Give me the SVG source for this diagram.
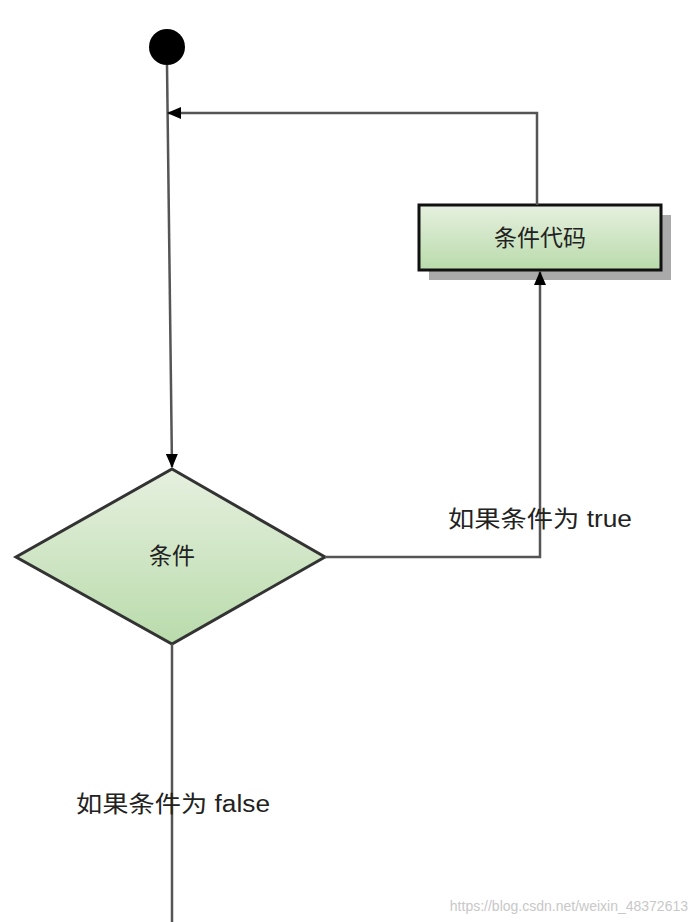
<svg xmlns="http://www.w3.org/2000/svg" width="696" height="922" viewBox="0 0 696 922">
<style>
.t{font-family:"Liberation Sans","Noto Sans CJK SC",sans-serif;font-size:23px;fill:#222}
.c{fill:none;stroke:#555;stroke-width:2.5}
</style>
<defs>
<linearGradient id="g" x1="0" y1="0" x2="0" y2="1"><stop offset="0" stop-color="#e6f0df"/><stop offset="1" stop-color="#b9dbab"/></linearGradient>
<marker id="a" markerWidth="14" markerHeight="14" refX="13" refY="7" orient="auto" markerUnits="userSpaceOnUse" viewBox="0 0 14 14"><path d="M0,1L14,7L0,13z" fill="#000"/></marker>
</defs>
<rect width="696" height="922" fill="#fff"/>
<g id="start"><circle cx="167" cy="47" r="18" fill="#000"/></g>
<g id="code">
<rect x="429" y="215" width="242" height="65" fill="#aaa"/>
<rect x="419" y="205" width="242" height="65" fill="url(#g)" stroke="#111" stroke-width="3"/>
<text class="t" x="540" y="246" text-anchor="middle">条件代码</text>
</g>
<g id="cond">
<polygon points="172,469 325,557 172,644 16,557" fill="url(#g)" stroke="#333" stroke-width="3"/>
<text class="t" x="172" y="564" text-anchor="middle">条件</text>
</g>
<g id="connectors">
<path class="c" d="M167,65L172,467" marker-end="url(#a)" stroke="#222" stroke-width="1.5"/>
<path class="c" d="M537,205V113H168" marker-end="url(#a)"/>
<path class="c" d="M325,557H540V272" marker-end="url(#a)"/>
<path class="c" d="M172,644V922"/>
<text class="t" x="448" y="527" textLength="184" lengthAdjust="spacingAndGlyphs">如果条件为 true</text>
<text class="t" x="76" y="812" textLength="194" lengthAdjust="spacingAndGlyphs">如果条件为 false</text>
</g>
<text x="688" y="911" text-anchor="end" font-family="Liberation Sans,sans-serif" font-size="14" fill="#c8c8c8">https://blog.csdn.net/weixin_48372613</text>
</svg>
